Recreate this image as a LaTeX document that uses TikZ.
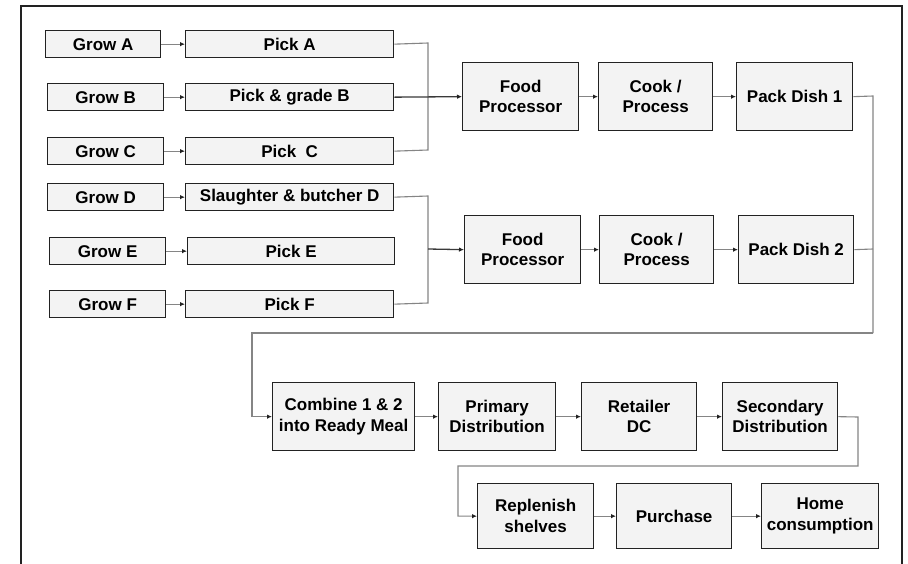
\documentclass[tikz,border=0pt]{standalone}
\usepackage{fontspec}
\setmainfont{Liberation Sans}
\usetikzlibrary{arrows.meta}
\definecolor{boxline}{HTML}{222222}
\definecolor{boxfill}{HTML}{F3F3F3}
\definecolor{wire}{HTML}{858585}
\definecolor{darkwire}{HTML}{3A3A3A}
\begin{document}
\begin{tikzpicture}[x=1pt,y=-1pt,
  box/.style={draw=boxline, fill=boxfill, line width=1.3pt, inner sep=0pt,
    align=center, anchor=north west,
    font=\fontsize{17}{20.5}\selectfont\bfseries},
  wireline/.style={draw=wire, line width=1.1pt},
  flow/.style={wireline, -{Latex[length=5pt,width=4.5pt,color=boxline]}},
  mainflow/.style={draw=darkwire, line width=1.3pt, -{Latex[length=5pt,width=4.5pt,color=boxline]}}]
\useasboundingbox (0,0) rectangle (908,563);
\fill[white] (0,0) rectangle (908,563);

% frame
\draw[boxline, line width=2pt] (21,566) -- (21,6) -- (902,6) -- (902,566);

% growing
\node[box, minimum width=115, minimum height=27] (growA) at (45,30)  {Grow A};
\node[box, minimum width=116, minimum height=27] (growB) at (47,83)  {Grow B};
\node[box, minimum width=116, minimum height=27] (growC) at (47,137) {Grow C};
\node[box, minimum width=116, minimum height=27] (growD) at (47,183) {Grow D};
\node[box, minimum width=116, minimum height=27] (growE) at (49,237) {Grow E};
\node[box, minimum width=116, minimum height=27] (growF) at (49,290) {Grow F};

% harvesting
\node[box, minimum width=208, minimum height=27] (pickA) at (185,30)  {Pick A};
\node[box, minimum width=208, minimum height=27] (pickB) at (185,83)  {Pick \& grade B};
\node[box, minimum width=208, minimum height=27] (pickC) at (185,137) {Pick\ \ C};
\node[box, minimum width=208, minimum height=27] (pickD) at (185,183) {Slaughter \& butcher D};
\node[box, minimum width=207, minimum height=27] (pickE) at (187,237) {Pick E};
\node[box, minimum width=208, minimum height=27] (pickF) at (185,290) {Pick F};

% dish 1
\node[box, minimum width=116, minimum height=68] (fp1)   at (462,62) {Food\\Processor};
\node[box, minimum width=114, minimum height=68] (cook1) at (598,62) {Cook /\\Process};
\node[box, minimum width=116, minimum height=68] (pack1) at (736,62) {Pack Dish 1};

% dish 2
\node[box, minimum width=116, minimum height=68] (fp2)   at (464,215) {Food\\Processor};
\node[box, minimum width=114, minimum height=68] (cook2) at (599,215) {Cook /\\Process};
\node[box, minimum width=115, minimum height=68] (pack2) at (738,215) {Pack Dish 2};

% distribution
\node[box, minimum width=142, minimum height=68] (combine)   at (272,382) {Combine 1 \& 2\\into Ready Meal};
\node[box, minimum width=117, minimum height=68] (primary)   at (438,382) {Primary\\Distribution};
\node[box, minimum width=115, minimum height=68] (retailer)  at (581,382) {Retailer\\DC};
\node[box, minimum width=115, minimum height=68] (secondary) at (722,382) {Secondary\\Distribution};

% retail
\node[box, minimum width=116, minimum height=65] (replenish) at (477,483) {Replenish\\shelves};
\node[box, minimum width=115, minimum height=65] (purchase)  at (616,483) {Purchase};
\node[box, minimum width=117, minimum height=65] (home)      at (761,483) {Home\\consumption};

% grow -> pick
\foreach \r in {A,B,C,D,E,F}
  \draw[flow] (grow\r.east) -- (pick\r.west);

% merge into dish 1
\coordinate (m1top) at (428,43);
\coordinate (m1bot) at (428,150);
\draw[wireline] (pickA.east) -- (m1top) -- (m1bot) -- (pickC.east);
\draw[mainflow] (pickB.east) -- (fp1.west);

% merge into dish 2
\coordinate (m2top) at (428,196);
\coordinate (m2bot) at (428,303);
\coordinate (m2mid) at (428,249);
\draw[wireline] (pickD.east) -- (m2top) -- (m2bot) -- (pickF.east);
\draw[mainflow] (m2mid) -- (fp2.west);

% processing chains
\draw[flow] (fp1.east) -- (cook1.west);
\draw[flow] (cook1.east) -- (pack1.west);
\draw[flow] (fp2.east) -- (cook2.west);
\draw[flow] (cook2.east) -- (pack2.west);

% dishes -> combine
\coordinate (d1) at (873,96);
\coordinate (d2) at (873,249);
\coordinate (dlow) at (873,333);
\coordinate (dleft) at (252,333);
\draw[wireline] (pack1.east) -- (d1) -- (dlow);
\draw[wireline] (pack2.east) -- (d2);
\draw[flow] (dlow) -- (dleft) |- (combine.west);

% distribution chain
\draw[flow] (combine.east) -- (primary.west);
\draw[flow] (primary.east) -- (retailer.west);
\draw[flow] (retailer.east) -- (secondary.west);

% secondary -> replenish
\coordinate (s1) at (858,417);
\coordinate (s2) at (858,466);
\coordinate (s3) at (458,466);
\draw[flow] (secondary.east) -- (s1) -- (s2) -- (s3) |- (replenish.west);

% retail chain
\draw[flow] (replenish.east) -- (purchase.west);
\draw[flow] (purchase.east) -- (home.west);
\end{tikzpicture}
\end{document}
